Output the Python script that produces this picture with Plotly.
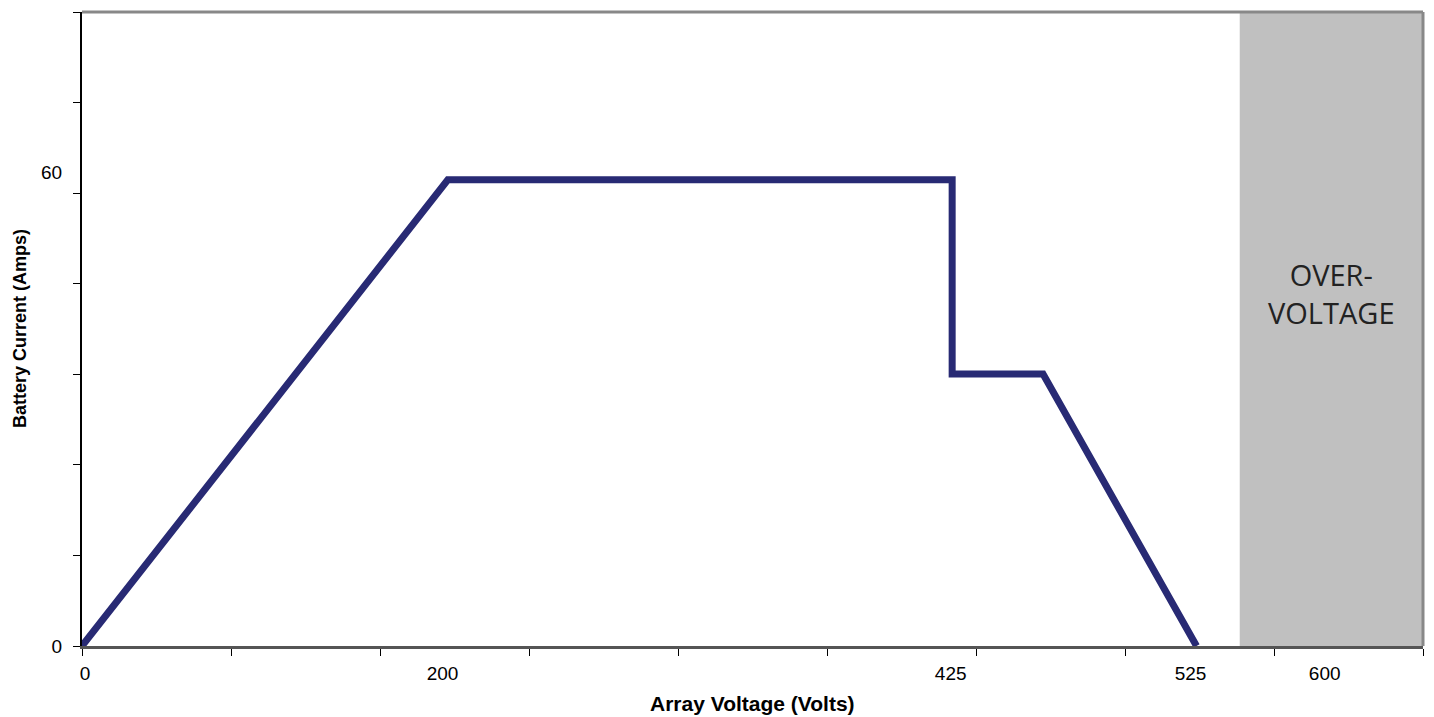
import plotly.graph_objects as go

# schematic x positions (one unit = one tick interval on the drawn axis)
curve_x = [0, 2.455, 5.84, 5.84, 6.45, 7.48]
curve_amps = [0, 60, 60, 35, 35, 0]

x_label_pos = [0.02, 2.42, 5.83, 7.44, 8.34]
x_label_text = ["0", "200", "425", "525", "600"]
x_minor = list(range(0, 10))

y_label_pos = [0, 61]
y_label_text = ["0", "60"]
y_top = 81.6
y_minor = [y_top / 7 * i for i in range(8)]

overvolt_x = [7.77, 9.0]
overvolt_y = 45.4
overvolt_text = "OVER-<br>VOLTAGE"

fig = go.Figure()

# over-voltage band
fig.add_shape(type="rect", xref="x", yref="y",
              x0=overvolt_x[0], x1=overvolt_x[1], y0=0, y1=y_top,
              fillcolor="#c0c0c0", line_width=0, layer="below")

fig.add_trace(go.Scatter(
    x=curve_x, y=curve_amps, mode="lines",
    line=dict(color="#282a74", width=7),
    hoverinfo="skip", showlegend=False,
))

fig.add_annotation(x=sum(overvolt_x) / 2, y=overvolt_y, xref="x", yref="y",
                   text=overvolt_text, showarrow=False,
                   font=dict(family="Open Sans", size=29, color="#222222"))

# axis titles
fig.add_annotation(x=0.5, y=0, xref="paper", yref="paper", yshift=-57,
                   yanchor="middle", showarrow=False,
                   text="<b>Array Voltage (Volts)</b>", font=dict(size=21))
fig.add_annotation(x=0, y=0.5, xref="paper", yref="paper", xshift=-62,
                   xanchor="center", textangle=-90, showarrow=False,
                   text="<b>Battery Current (Amps)</b>", font=dict(size=18))

# page body has 8px margin, so the figure is offset by 8px
fig.update_layout(
    width=1418, height=709,
    margin=dict(l=74, r=3, t=4, b=71),
    plot_bgcolor="white", paper_bgcolor="white",
    font=dict(family="Liberation Sans, Arial", color="black"),
)

fig.update_xaxes(
    range=[0, 9], showgrid=False, zeroline=False, automargin=False,
    showline=True, linecolor="#555555", linewidth=3, mirror=False,
    tickvals=x_label_pos, ticktext=x_label_text, ticks="",
    ticklabelstandoff=8, tickfont=dict(size=19),
    minor=dict(tickvals=x_minor, ticks="outside", ticklen=7,
               tickcolor="black", tickwidth=1, showgrid=False),
)

fig.update_yaxes(
    range=[0, y_top], showgrid=False, zeroline=False, automargin=False,
    showline=True, linecolor="black", linewidth=2,
    tickvals=y_label_pos, ticktext=y_label_text, ticks="",
    ticklabelstandoff=14, tickfont=dict(size=19),
    minor=dict(tickvals=y_minor, ticks="outside", ticklen=7,
               tickcolor="black", tickwidth=1, showgrid=False),
)

# top and right frame lines (gray)
fig.add_shape(type="line", xref="paper", yref="paper", x0=0, x1=1, y0=1, y1=1,
              line=dict(color="#888888", width=3))
fig.add_shape(type="line", xref="paper", yref="paper", x0=1, x1=1, y0=0, y1=1,
              line=dict(color="#888888", width=3))

fig.write_html("out.html")
